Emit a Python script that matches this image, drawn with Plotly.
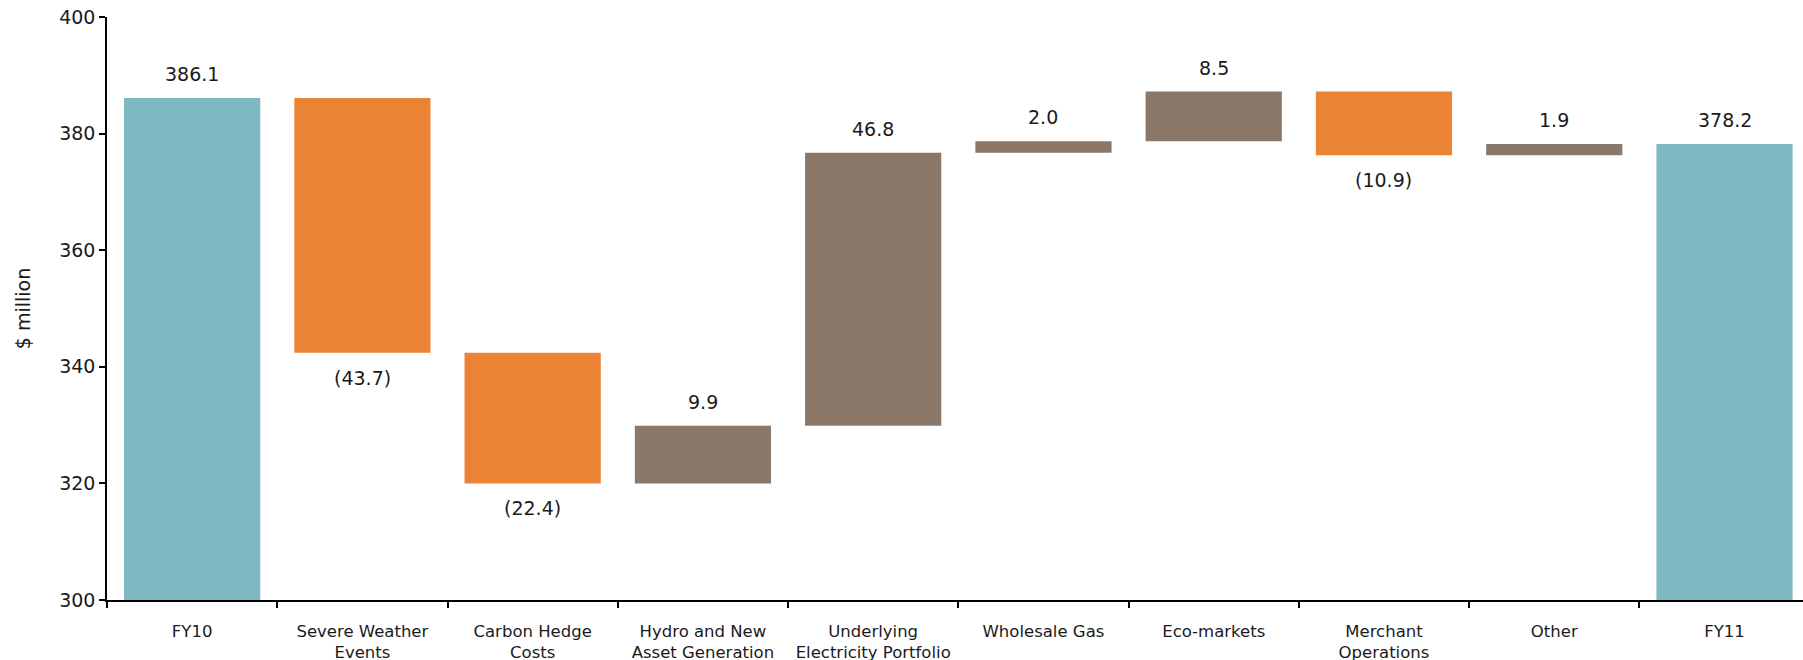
import plotly.graph_objects as go

# Underlying EBITDA bridge, FY10 -> FY11 ($ million)
categories = [
    "FY10",
    "Severe Weather<br>Events",
    "Carbon Hedge<br>Costs",
    "Hydro and New<br>Asset Generation",
    "Underlying<br>Electricity Portfolio",
    "Wholesale Gas",
    "Eco-markets",
    "Merchant<br>Operations",
    "Other",
    "FY11",
]
values = [386.1, -43.7, -22.4, 9.9, 46.8, 2.0, 8.5, -10.9, 1.9, 378.2]
measures = ["absolute", "relative", "relative", "relative", "relative",
            "relative", "relative", "relative", "relative", "total"]
y_ticks = [300, 320, 340, 360, 380, 400]

TEAL = "#7FB9C1"
ORANGE = "#EB8334"
BROWN = "#8B7868"
FONT = "DejaVu Sans"

fig = go.Figure(go.Waterfall(
    x=categories,
    y=values,
    measure=measures,
    width=0.8,
    increasing=dict(marker=dict(color=BROWN)),
    decreasing=dict(marker=dict(color=ORANGE)),
    totals=dict(marker=dict(color=TEAL)),
    connector=dict(visible=False),
    hoverinfo="skip",
    showlegend=False,
))

# value labels: above the bar end for gains/totals, below for falls
running = 0.0
for cat, v, m in zip(categories, values, measures):
    if m == "absolute":
        running = v
        end, txt, up = v, f"{v:.1f}", True
    elif m == "total":
        end, txt, up = running, f"{v:.1f}", True
    else:
        running += v
        end = running
        up = v >= 0
        txt = f"{v:.1f}" if up else f"({abs(v):.1f})"
    fig.add_annotation(
        x=cat, y=end, text=txt, showarrow=False,
        yanchor="middle", yshift=24 if up else -25,
        font=dict(family=FONT, size=19, color="#1a1a1a"),
    )

fig.update_layout(
    width=1803, height=660,
    margin=dict(l=107, r=0, t=17, b=60),
    paper_bgcolor="white", plot_bgcolor="white",
    font=dict(family=FONT, size=18, color="#1a1a1a"),
    xaxis=dict(
        type="category",
        range=[-0.5, 9.461],
        tickson="boundaries",
        showline=True, linecolor="black", linewidth=1.5,
        ticks="outside", ticklen=6, tickcolor="black", tickwidth=1.5,
        showgrid=False, zeroline=False,
        tickfont=dict(size=16.5),
        ticklabelstandoff=15,
        automargin=False,
    ),
    yaxis=dict(
        range=[300, 400],
        tickvals=y_ticks,
        showline=True, linecolor="black", linewidth=1.5,
        ticks="outside", ticklen=6, tickcolor="black", tickwidth=1.5,
        showgrid=False, zeroline=False,
        tickfont=dict(size=19),
        title=dict(text="$ million", font=dict(size=19), standoff=24),
        automargin=False,
    ),
)

fig.write_html("out.html")
